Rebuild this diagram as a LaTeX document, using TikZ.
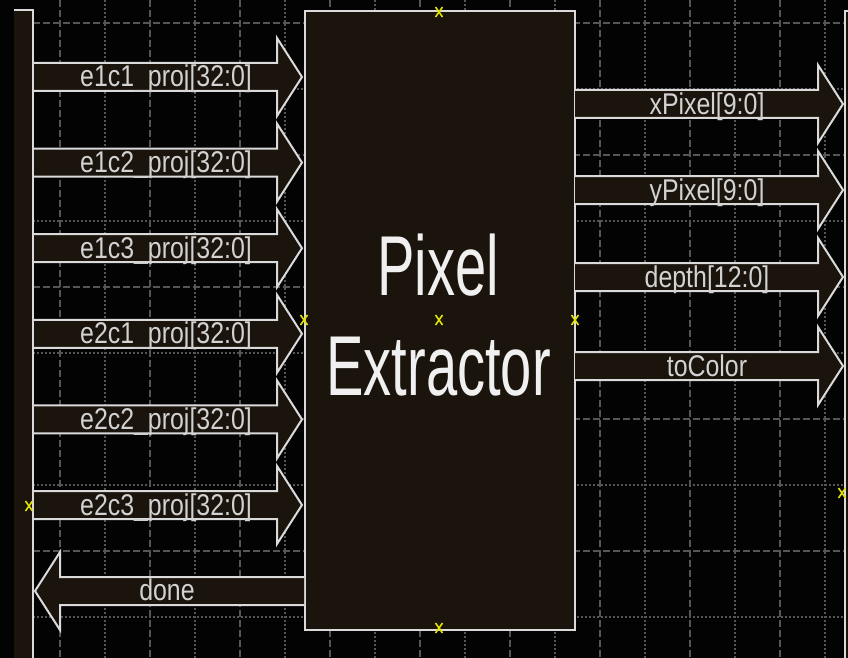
\documentclass[tikz,border=0pt]{standalone}
\usepackage{fontspec}
\setmainfont{Liberation Sans}
\usepackage{graphicx}
\usetikzlibrary{calc}
\definecolor{bgc}{HTML}{030303}
\definecolor{modfill}{HTML}{1A140C}
\definecolor{bord}{HTML}{DADADA}
\definecolor{gridc}{HTML}{555555}
\definecolor{yel}{HTML}{E2E200}
\definecolor{lbl}{HTML}{D2D2D2}
\definecolor{bigtxt}{HTML}{F0F0F0}
\tikzset{
  gridmajor/.style={draw=gridc, line width=1.4pt, dash pattern=on 7pt off 3pt},
  gridminor/.style={draw=gridc, line width=1.4pt, dash pattern=on 2pt off 2pt},
  bus/.style={fill=modfill, draw=bord, line width=2pt, line join=miter},
  buslabel/.style={text=lbl, inner sep=0pt, anchor=base, font=\fontsize{30}{30}\selectfont},
  modbox/.style={fill=modfill, draw=bord, line width=2pt, inner sep=0pt},
  barfill/.style={fill=modfill, inner sep=0pt, draw=none},
  anchorx/.style={draw=yel, line width=1.6pt},
  xmarker/.pic={\draw[anchorx] (-3.5,-5) -- (3.5,5) (-3.5,5) -- (3.5,-5);},
}
\newcommand\condensed[1]{\scalebox{0.83}[1]{#1}}
\newcommand\busR[2]{%
  \draw[bus] let \p1=(#1), \p2=(#2) in
    (\x1,\y1+14pt) -- (\x2-25pt,\y1+14pt) -- (\x2-25pt,\y1+39pt) -- (\x2,\y1)
    -- (\x2-25pt,\y1-39pt) -- (\x2-25pt,\y1-14pt) -- (\x1,\y1-14pt);}
\newcommand\busL[2]{%
  \draw[bus] let \p1=(#1), \p2=(#2) in
    (\x1,\y1+14pt) -- (\x2+25pt,\y1+14pt) -- (\x2+25pt,\y1+39pt) -- (\x2,\y1)
    -- (\x2+25pt,\y1-39pt) -- (\x2+25pt,\y1-14pt) -- (\x1,\y1-14pt);}
\begin{document}
\begin{tikzpicture}[x=1pt,y=-1pt]
\fill[bgc] (0,0) rectangle (848,658);
\useasboundingbox (0,0) rectangle (848,658);
% grid
\foreach \gx in {60,150,...,780} \draw[gridmajor] (\gx,0) -- (\gx,658);
\foreach \gx in {105,195,...,825} \draw[gridminor] (\gx,0) -- (\gx,658);
\foreach \gy in {23,155,...,551} \draw[gridmajor] (33,\gy) -- (845,\gy);
\foreach \gy in {89,221,...,617} \draw[gridminor] (33,\gy) -- (845,\gy);
% side bars
\node[barfill, minimum width=19pt, minimum height=660pt] (lbar) at (23.5,340) {};
\node[barfill, minimum width=20pt, minimum height=660pt] (rbar) at (855,341) {};
% main block
\node[modbox, minimum width=270pt, minimum height=619pt] (blk) at (439.5,320.5) {};
\node[text=bigtxt, inner sep=0pt, anchor=base, font=\fontsize{85}{85}\selectfont] (t1) at (438,295) {\scalebox{0.66}[1]{Pixel}};
\node[text=bigtxt, inner sep=0pt, anchor=base, font=\fontsize{85}{85}\selectfont] (t2) at (438.5,395) {\scalebox{0.66}[1]{Extractor}};
% input coordinates
\foreach \i/\yy in {1/77,2/162.6,3/248.2,4/333.8,5/419.4,6/505} {
  \coordinate (is\i) at (33,\yy);
  \coordinate (it\i) at (302,\yy);
}
\busR{is1}{it1} \busR{is2}{it2} \busR{is3}{it3}
\busR{is4}{it4} \busR{is5}{it5} \busR{is6}{it6}
\node[buslabel] (l1) at (166,87) {\condensed{e1c1\_proj[32:0]}};
\node[buslabel] (l2) at (166,172.6) {\condensed{e1c2\_proj[32:0]}};
\node[buslabel] (l3) at (166,258.2) {\condensed{e1c3\_proj[32:0]}};
\node[buslabel] (l4) at (166,343.8) {\condensed{e2c1\_proj[32:0]}};
\node[buslabel] (l5) at (166,429.4) {\condensed{e2c2\_proj[32:0]}};
\node[buslabel] (l6) at (166,515) {\condensed{e2c3\_proj[32:0]}};
% outputs
\foreach \i/\yy in {1/104,2/190,3/277,4/366} {
  \coordinate (os\i) at (575,\yy);
  \coordinate (ot\i) at (843,\yy);
}
\busR{os1}{ot1} \busR{os2}{ot2} \busR{os3}{ot3} \busR{os4}{ot4}
\node[buslabel] (m1) at (707,114) {\condensed{xPixel[9:0]}};
\node[buslabel] (m2) at (707,200) {\condensed{yPixel[9:0]}};
\node[buslabel] (m3) at (707,287) {\condensed{depth[12:0]}};
\node[buslabel] (m4) at (707,376) {\condensed{toColor}};
% done
\coordinate (ds) at (304,591);
\coordinate (dt) at (35,591);
\busL{ds}{dt}
\node[buslabel] (m5) at (167,600) {\condensed{done}};
% bar borders
\draw[bord, line width=2pt] (lbar.north west) -- (lbar.north east) -- (lbar.south east);
\draw[bord, line width=2pt] (rbar.south west) -- (rbar.north west) -- (rbar.north east);
% anchor markers
\pic at (439,12) {xmarker};
\pic at (439,628) {xmarker};
\pic at (304,320) {xmarker};
\pic at (575,320) {xmarker};
\pic at (439,320) {xmarker};
\pic at (29,506) {xmarker};
\pic at (842,493) {xmarker};
\end{tikzpicture}
\end{document}
